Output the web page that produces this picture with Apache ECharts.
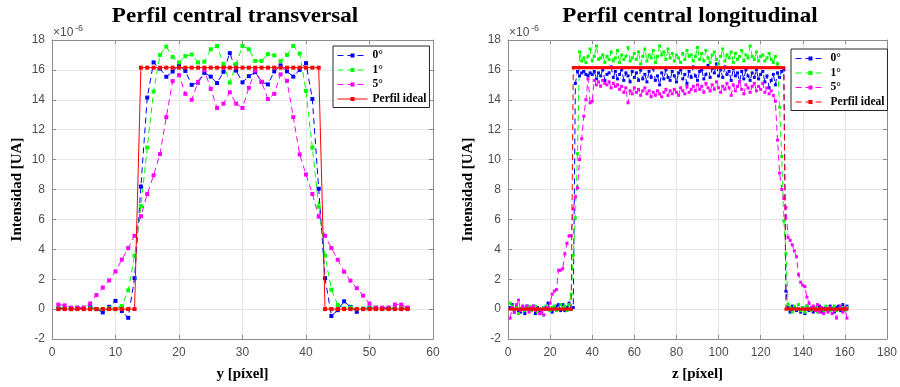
<!DOCTYPE html>
<html>
<head>
<meta charset="utf-8">
<script src="https://cdn.jsdelivr.net/npm/echarts@6/dist/echarts.min.js"></script>
<style>
  html, body { margin: 0; padding: 0; background: #fff; }
  #chart { width: 900px; height: 387px; }
</style>
</head>
<body>
<div id="chart"></div>
<script>
// transversal profile, y = 1..56 (values x1e-6)
const trans0 = [0.05, 0.05, 0.0, 0.05, 0.05, 0.2, 0.0, -0.22, 0.15, 0.55,
  -0.13, -0.58, 2.07, 8.2, 14.15, 16.5, 16.09, 15.54, 15.89, 16.3,
  15.93, 15.0, 15.15, 15.8, 15.55, 15.12, 15.87, 17.12, 15.95, 15.17,
  15.58, 15.85, 15.2, 15.03, 15.9, 16.3, 15.9, 15.55, 16.0, 16.45,
  14.05, 8.05, 2.07, -0.46, -0.07, 0.52, 0.15, -0.18, 0.0, 0.1,
  0.05, 0.05, 0.05, 0.05, 0.05, 0.05];
const trans1 = [0.1, 0.1, 0.05, 0.1, 0.1, 0.05, 0.0, 0.0, 0.05, 0.0,
  0.2, 1.25, 3.57, 6.89, 10.81, 14.55, 17.0, 17.56, 16.86, 16.5,
  16.92, 17.03, 16.5, 16.55, 17.38, 17.6, 16.4, 15.15, 16.4, 17.6,
  17.38, 16.6, 16.6, 17.05, 16.97, 16.6, 17.0, 17.6, 17.1, 14.6,
  10.8, 6.85, 3.57, 1.3, 0.27, 0.05, 0.1, 0.0, 0.05, 0.05,
  0.1, 0.05, 0.1, 0.05, 0.1, 0.05];
const trans5 = [0.3, 0.25, 0.1, 0.1, 0.1, 0.37, 0.94, 1.44, 1.92, 2.52,
  3.31, 4.08, 4.9, 6.22, 7.7, 8.95, 10.37, 12.84, 15.25, 15.65,
  14.4, 14.0, 15.2, 15.98, 14.73, 13.45, 13.74, 14.5, 13.74, 13.45,
  14.8, 15.95, 15.2, 14.05, 14.4, 15.7, 15.27, 12.84, 10.35, 9.0,
  7.7, 6.2, 4.9, 4.08, 3.3, 2.5, 1.9, 1.4, 0.9, 0.37,
  0.1, 0.1, 0.1, 0.3, 0.3, 0.1];
const transIdeal = [0, 0, 0, 0, 0, 0, 0, 0, 0, 0, 0, 0, 0,
  16.15, 16.15, 16.15, 16.15, 16.15, 16.15, 16.15, 16.15, 16.15, 16.15,
  16.15, 16.15, 16.15, 16.15, 16.15, 16.15, 16.15, 16.15, 16.15, 16.15,
  16.15, 16.15, 16.15, 16.15, 16.15, 16.15, 16.15, 16.15, 16.15,
  0, 0, 0, 0, 0, 0, 0, 0, 0, 0, 0, 0, 0, 0];

// longitudinal profile, z = 1..161
const long0 = [0.1, 0.3, -0.2, 0.2, -0.1, -0.2, 0.1, -0.3, 0.2, 0.0,
  -0.1, 0.2, -0.3, 0.1, -0.1, -0.2, 0.1, 0.0, 0.4, -0.1,
  -0.2, 0.1, 0.2, 0.3, -0.1, 0.3, -0.1, 0.1, 0.4, 0.0,
  0.1, 15.1, 15.9, 15.6, 15.8, 15.9, 15.7, 15.6, 15.8, 15.7,
  15.9, 15.4, 15.8, 15.6, 16.0, 15.3, 15.7, 15.8, 16.2, 15.5,
  15.9, 15.4, 15.7, 16.0, 15.3, 15.8, 15.6, 15.2, 15.9, 15.5,
  15.8, 15.3, 16.0, 15.4, 15.7, 15.2, 15.9, 15.5, 16.1, 15.3,
  15.6, 15.0, 15.8, 15.4, 16.0, 15.5, 15.3, 15.9, 15.6, 15.2,
  15.8, 16.0, 15.4, 15.7, 15.1, 15.9, 15.5, 16.2, 15.6, 15.3,
  15.9, 16.0, 15.4, 15.7, 16.3, 15.5, 16.1, 15.8, 16.4, 15.6,
  16.0, 15.5, 16.2, 15.7, 15.9, 15.3, 16.1, 15.6, 15.8, 15.2,
  15.9, 15.4, 16.0, 15.6, 15.3, 15.8, 15.5, 16.0, 15.4, 15.7,
  15.9, 15.2, 15.6, 14.8, 15.3, 15.7, 15.0, 15.8, 15.5, 15.9,
  16.0, 1.2, 0.1, -0.2, 0.2, 0.1, -0.1, 0.0, -0.2, 0.1,
  -0.3, 0.2, -0.1, 0.0, -0.2, 0.1, -0.1, 0.2, -0.2, 0.0,
  0.1, -0.1, 0.2, 0.0, -0.2, 0.1, 0.2, -0.1, 0.3, 0.1,
  0.2];
const long1 = [0.4, 0.2, -0.1, 0.1, -0.3, 0.0, 0.2, -0.1, 0.1, 0.2,
  -0.1, 0.1, 0.2, -0.2, 0.0, -0.3, 0.1, 0.2, 0.1, -0.1,
  0.1, 0.2, -0.1, 0.0, 0.3, 0.1, 0.2, -0.1, 0.3, 1.0,
  3.6, 6.1, 10.4, 17.2, 16.6, 16.8, 16.5, 16.9, 17.4, 16.6,
  16.9, 17.6, 16.7, 16.8, 17.0, 16.5, 16.9, 16.7, 17.2, 16.6,
  16.8, 17.3, 16.5, 17.0, 16.7, 16.9, 17.5, 16.6, 16.8, 17.1,
  16.7, 17.2, 16.4, 16.9, 17.4, 16.6, 17.0, 16.8, 17.3, 16.5,
  16.9, 17.6, 17.0, 17.2, 16.7, 17.4, 16.8, 17.1, 16.6, 17.0,
  16.8, 16.5, 17.1, 16.7, 17.3, 16.9, 17.0, 16.6, 16.9, 17.5,
  16.7, 17.1, 16.6, 17.3, 16.8, 16.5, 17.0, 17.2, 16.7, 16.4,
  16.9, 17.4, 16.6, 17.0, 16.8, 17.2, 16.5, 17.1, 16.7, 16.9,
  17.3, 16.6, 17.0, 16.8, 17.6, 16.9, 16.7, 17.2, 16.6, 16.9,
  17.0, 16.6, 16.8, 17.1, 16.7, 16.5, 16.9, 16.4, 13.5, 10.2,
  5.9, 3.7, 0.3, 0.1, -0.2, 0.2, 0.0, 0.3, -0.1, 0.1,
  -0.2, 0.2, 0.0, -0.1, 0.2, 0.1, -0.2, 0.0, 0.1, -0.1,
  0.2, 0.0, -0.1, 0.1, 0.2, -0.1, 0.0, 0.2, 0.1, -0.1,
  0.1];
const long5 = [-0.6, 0.1, -0.2, 0.3, 0.6, -0.1, 0.2, 0.0, 0.2, -0.2,
  0.1, 0.2, -0.1, 0.0, -0.3, -0.2, -0.4, 0.1, 0.1, 0.4,
  1.0, 1.2, 1.3, 2.6, 2.6, 2.7, 3.7, 4.4, 4.9, 4.9,
  6.7, 7.5, 8.1, 10.0, 11.4, 12.9, 14.0, 15.4, 13.8, 13.9,
  15.3, 15.0, 15.2, 14.9, 15.3, 15.1, 15.0, 15.2, 14.8, 15.1,
  14.9, 15.0, 14.7, 14.9, 14.5, 14.8, 13.8, 14.6, 14.4, 14.8,
  14.5, 14.7, 14.3, 14.6, 14.8, 14.4, 14.6, 14.2, 14.5, 14.3,
  14.6, 14.4, 14.2, 14.5, 14.7, 14.3, 14.6, 14.4, 14.7, 14.5,
  14.3, 14.8, 14.6, 14.4, 14.9, 14.5, 14.7, 14.9, 14.6, 15.0,
  14.7, 14.9, 14.5, 15.1, 14.8, 14.6, 15.0, 14.7, 15.2, 14.8,
  14.5, 14.9, 14.7, 15.1, 14.8, 14.3, 15.0, 14.6, 14.9, 15.2,
  14.7, 14.4, 15.0, 14.8, 14.5, 14.9, 15.1, 14.6, 14.9, 14.7,
  15.1, 14.5, 14.8, 14.4, 14.6, 14.3, 13.9, 11.3, 9.1, 8.0,
  7.4, 6.8, 4.8, 4.6, 4.3, 3.9, 3.5, 2.3, 1.8, 1.6,
  1.5, 0.8, 0.4, 0.1, 0.2, -0.1, 0.3, -0.2, 0.1, -0.3,
  0.0, -0.2, 0.1, -0.3, -0.1, -0.6, 0.0, 0.2, -0.2, 0.1,
  -0.6];
// ideal: 0 up to z=30, 16.15 for z=31..131, 0 after
const longIdealLevel = 16.15;
const longIdealStart = 31, longIdealEnd = 131;

const names = ['0°', '1°', '5°', 'Perfil ideal'];
const colors = ['#0000ff', '#00ff00', '#ff00ff', '#ff0000'];

const pairs = (arr) => arr.map((v, i) => [i + 1, v]);
const longIdeal = long0.map((_, i) => (i + 1 >= longIdealStart && i + 1 <= longIdealEnd) ? longIdealLevel : 0);

const serif = 'Liberation Serif';
const sans = 'Liberation Sans';
const axisGray = '#8c8c8c';

function xAxes(gi, max, interval, name) {
  return [{
    gridIndex: gi, type: 'value', min: 0, max: max, interval: interval,
    name: name, nameLocation: 'middle', nameGap: 28,
    nameTextStyle: { fontFamily: serif, fontWeight: 'bold', fontSize: 15, color: '#000' },
    axisLine: { onZero: false, lineStyle: { color: axisGray } },
    axisTick: { inside: true, length: 4, lineStyle: { color: axisGray } },
    axisLabel: { color: '#4d4d4d', fontSize: 12, fontFamily: sans, margin: 8 },
    splitLine: { show: true, lineStyle: { color: '#e6e6e6' } }
  }, {
    gridIndex: gi, type: 'value', position: 'top', min: 0, max: max, interval: interval,
    axisLine: { onZero: false, lineStyle: { color: axisGray } },
    axisTick: { inside: true, length: 4, lineStyle: { color: axisGray } },
    axisLabel: { show: false }, splitLine: { show: false }
  }];
}
function yAxes(gi, gap) {
  return [{
    gridIndex: gi, type: 'value', min: -2, max: 18, interval: 2,
    name: 'Intensidad [UA]', nameLocation: 'middle', nameGap: gap,
    nameTextStyle: { fontFamily: serif, fontWeight: 'bold', fontSize: 15, color: '#000' },
    axisLine: { onZero: false, lineStyle: { color: axisGray } },
    axisTick: { inside: true, length: 4, lineStyle: { color: axisGray } },
    axisLabel: { color: '#4d4d4d', fontSize: 12, fontFamily: sans, margin: 7 },
    splitLine: { show: true, lineStyle: { color: '#e6e6e6' } }
  }, {
    gridIndex: gi, type: 'value', position: 'right', min: -2, max: 18, interval: 2,
    axisLine: { show: true, onZero: false, lineStyle: { color: axisGray } },
    axisTick: { show: true, inside: true, length: 4, lineStyle: { color: axisGray } },
    axisLabel: { show: false }, splitLine: { show: false }
  }];
}

function series(name, color, data, xi, yi, dashed, size) {
  return {
    name: name, type: 'line', xAxisIndex: xi, yAxisIndex: yi, data: data,
    symbol: 'rect', symbolSize: size, showSymbol: true, animation: false,
    itemStyle: { color: color },
    lineStyle: { color: color, width: 1, type: dashed ? [6, 4] : 'solid' },
    z: name === 'Perfil ideal' ? 3 : 2
  };
}

function legend(left, top, idealDashed) {
  return {
    orient: 'vertical', left: left, top: top,
    backgroundColor: '#fff', borderColor: '#262626', borderWidth: 1,
    padding: [3, 3, 2, 4], itemGap: 1.5, itemWidth: 30, itemHeight: 5,
    selectedMode: false,
    textStyle: { fontFamily: serif, fontWeight: 'bold', fontSize: 11.5, color: '#000', lineHeight: 13 },
    data: names.map((n, i) => ({
      name: n,
      lineStyle: { color: colors[i], width: 1, type: (i < 3 || idealDashed) ? [6, 4] : 'solid', opacity: 1 },
      itemStyle: { color: colors[i] }
    }))
  };
}

function title(x, text) {
  return {
    type: 'text', x: x, y: 17, scaleX: 1.1, originX: 0, originY: 0,
    style: { text: text, fill: '#000', font: 'bold 21px "Liberation Serif"', align: 'center', verticalAlign: 'middle' }
  };
}

const chart = echarts.init(document.getElementById('chart'));
chart.setOption({
  animation: false,
  grid: [
    { left: 52, right: 467, top: 40, bottom: 45 },
    { left: 508, right: 11, top: 40, bottom: 45 }
  ],
  xAxis: [].concat(xAxes(0, 60, 10, 'y [píxel]'), xAxes(1, 180, 20, 'z [píxel]')),
  yAxis: [].concat(yAxes(0, 27), yAxes(1, 32)),
  legend: [legend(333, 46, false), legend(791, 49, true)],
  graphic: [
    title(235, 'Perfil central transversal'),
    title(690, 'Perfil central longitudinal'),
    { type: 'text', x: 53, y: 27, style: { text: '×10', fill: '#4d4d4d', font: '12px "Liberation Sans"' } },
    { type: 'text', x: 75, y: 24, style: { text: '-6', fill: '#4d4d4d', font: '9px "Liberation Sans"' } },
    { type: 'text', x: 509, y: 27, style: { text: '×10', fill: '#4d4d4d', font: '12px "Liberation Sans"' } },
    { type: 'text', x: 531, y: 24, style: { text: '-6', fill: '#4d4d4d', font: '9px "Liberation Sans"' } }
  ],
  series: [
    series(names[0], colors[0], pairs(trans0), 0, 0, true, 4),
    series(names[1], colors[1], pairs(trans1), 0, 0, true, 4),
    series(names[2], colors[2], pairs(trans5), 0, 0, true, 4),
    series(names[3], colors[3], pairs(transIdeal), 0, 0, false, 4),
    series(names[0], colors[0], pairs(long0), 2, 2, true, 3),
    series(names[1], colors[1], pairs(long1), 2, 2, true, 3),
    series(names[2], colors[2], pairs(long5), 2, 2, true, 3),
    series(names[3], colors[3], pairs(longIdeal), 2, 2, true, 3)
  ]
});
</script>
</body>
</html>
